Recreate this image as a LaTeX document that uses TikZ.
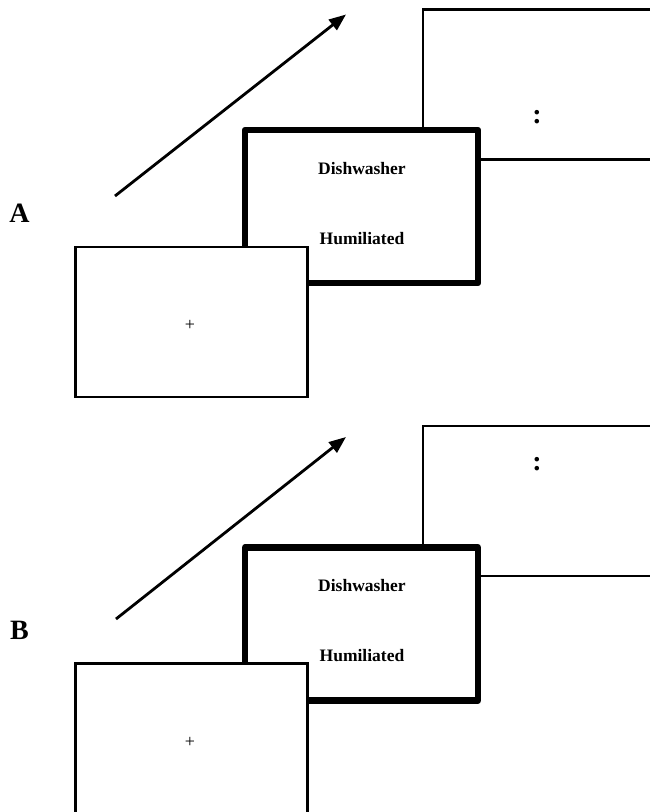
\documentclass[tikz,border=0pt]{standalone}
\usepackage{fontspec}
\setmainfont{Liberation Serif}
\usetikzlibrary{arrows.meta}
\begin{document}
\begin{tikzpicture}[x=1pt,y=-1pt,
  thinbox/.style={draw=black,fill=white,line width=2.8pt,minimum width=232pt,minimum height=150pt,inner sep=0pt,outer sep=0pt,anchor=north west},
  thickbox/.style={draw=black,fill=white,line width=6.5pt,line join=round,minimum width=233pt,minimum height=153pt,inner sep=0pt,outer sep=0pt,anchor=north west},
  word/.style={font=\bfseries\fontsize{17.5}{20}\selectfont,anchor=base,inner sep=0pt},
  panellabel/.style={font=\bfseries\fontsize{28}{32}\selectfont,anchor=base,inner sep=0pt},
  colonmark/.style={font=\bfseries\fontsize{28}{32}\selectfont,anchor=center,inner sep=0pt},
  plusmark/.style={font=\fontsize{18}{21}\selectfont,anchor=center,inner sep=0pt},
  timearrow/.style={line width=2.8pt,-{Triangle[length=17pt,width=13pt]}}
]
\useasboundingbox (0,0) rectangle (650,812);
\clip (0,0) rectangle (650,812);
\fill[white] (0,0) rectangle (650,812);

% ---------- Panel A ----------
\node[thinbox] (backA) at (423,9.5) {};
\node[thickbox] (midA) at (245,130) {};
\node[thinbox] (frontA) at (75.5,247) {};
\node[colonmark] (colA) at (537,117) {:};
\node[word] (dishA) at (362,174.3) {Dishwasher};
\node[word] (humA) at (362,244) {Humiliated};
\node[plusmark] (plusA) at (190,325) {+};
\node[panellabel] (labA) at (19.5,222) {A};
\coordinate (arrAs) at (115,196);
\coordinate (arrAe) at (346,14.5);
\draw[timearrow] (arrAs) -- (arrAe);

% ---------- Panel B ----------
\node[thinbox] (backB) at (423,426) {};
\node[thickbox] (midB) at (245,547.5) {};
\node[thinbox] (frontB) at (75.5,663.5) {};
\node[colonmark] (colB) at (537,464) {:};
\node[word] (dishB) at (362,591.7) {Dishwasher};
\node[word] (humB) at (362,661.7) {Humiliated};
\node[plusmark] (plusB) at (190,742) {+};
\node[panellabel] (labB) at (19.5,639) {B};
\coordinate (arrBs) at (116,619);
\coordinate (arrBe) at (346,437);
\draw[timearrow] (arrBs) -- (arrBe);
\end{tikzpicture}
\end{document}
